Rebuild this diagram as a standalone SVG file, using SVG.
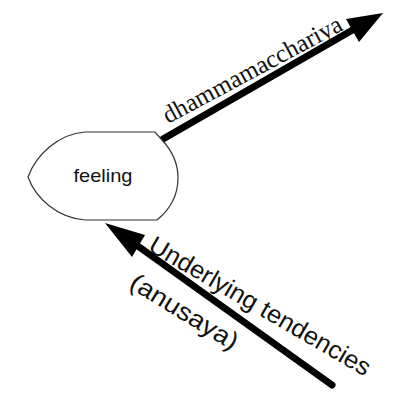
<svg xmlns="http://www.w3.org/2000/svg" width="398" height="397" viewBox="0 0 398 397">
  <defs>
    <style>
      .node { fill: #ffffff; stroke: #333333; stroke-width: 1.2; }
      .shaft { stroke: #000000; stroke-width: 7; stroke-linecap: round; fill: none; }
      .head { fill: #000000; }
      .lbl-serif { font-family: "Liberation Serif", "Times New Roman", serif; font-size: 25px; fill: #111111; }
      .lbl-sans { font-family: "Liberation Sans", Arial, sans-serif; font-size: 25px; fill: #111111; }
      .node-text { font-family: "Liberation Sans", Arial, sans-serif; font-size: 19px; fill: #111111; }
    </style>
  </defs>
  <rect width="398" height="397" fill="#ffffff"/>

  <g id="connectors">
    <!-- outgoing: feeling -> dhammamacchariya -->
    <g id="edge-out">
      <line class="shaft" x1="163" y1="139" x2="356" y2="28" stroke-linecap="butt"/>
      <polygon class="head" points="383,13 346,19 359,42"/>
      <text class="lbl-serif" transform="translate(168,124) rotate(-28.2)" textLength="200" lengthAdjust="spacingAndGlyphs">dhammamacchariya</text>
    </g>
    <!-- incoming: underlying tendencies -> feeling -->
    <g id="edge-in">
      <line class="shaft" x1="332" y1="385" x2="135" y2="244"/>
      <polygon class="head" points="105,223 145,235 132,257"/>
      <text class="lbl-sans" transform="translate(147,250) rotate(30.2)" textLength="252" lengthAdjust="spacingAndGlyphs">Underlying tendencies</text>
      <text class="lbl-sans" transform="translate(128,287) rotate(31.5)" textLength="122" lengthAdjust="spacingAndGlyphs">(anusaya)</text>
    </g>
  </g>

  <g id="node-feeling">
    <path class="node" d="M85,132 L155,132 L162,140 Q178,157 178,178 Q178,203 157,220 L85,220 C58,218 36,199 28,177 C36,155 58,134 85,132 Z"/>
    <text class="node-text" x="103" y="182" text-anchor="middle" textLength="59" lengthAdjust="spacingAndGlyphs">feeling</text>
  </g>
</svg>
